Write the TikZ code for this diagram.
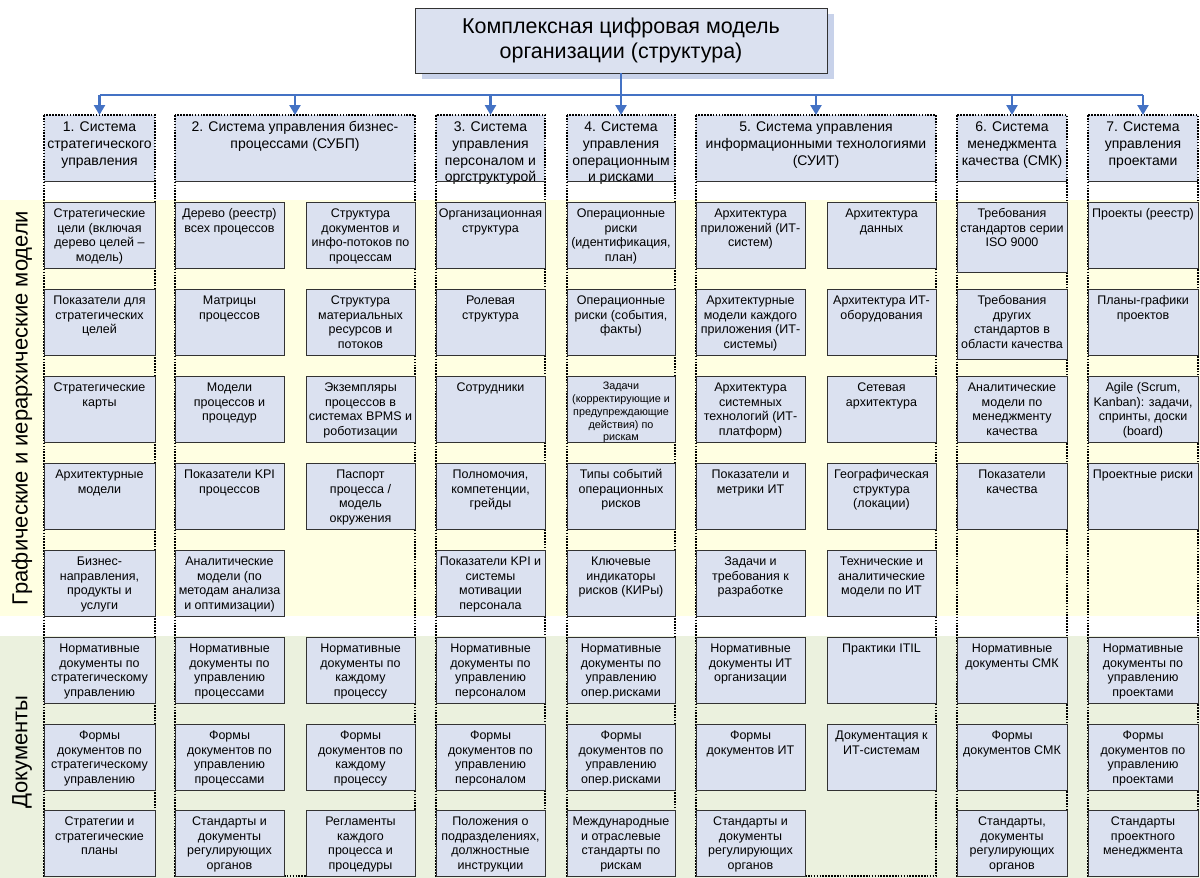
\documentclass[tikz,border=0pt]{standalone}
\usepackage{fontspec}
\setmainfont{Liberation Sans}
\usetikzlibrary{arrows.meta,shadows}
\definecolor{boxfill}{RGB}{219,225,240}
\definecolor{bandY}{RGB}{255,255,226}
\definecolor{bandG}{RGB}{235,241,222}
\definecolor{conblue}{RGB}{68,114,196}
\definecolor{shadowblue}{RGB}{200,210,234}
\definecolor{edge}{RGB}{50,50,50}
\tikzset{
 box/.style={draw=edge, line width=1pt, fill=boxfill, inner sep=0pt, outer sep=0pt, rectangle},
 btxt/.style={align=center, inner sep=0pt, font=\fontsize{12.5}{14.6}\selectfont},
 htxt/.style={align=center, inner sep=0pt, font=\fontsize{14}{16.7}\selectfont},
 hdr/.style={fill=boxfill, inner sep=0pt, outer sep=0pt, rectangle},
 hline/.style={draw=edge, line width=1pt},
 cont/.style={draw=black, line width=1.2pt, dash pattern=on 1.6pt off 1.3pt},
 conn/.style={draw=conblue, line width=2.4pt},
 arr/.style={conn, -{Triangle[length=10pt,width=11pt]}},
 side/.style={rotate=90, font=\fontsize{22}{26}\selectfont, inner sep=0pt}
}
\newcommand\mybox[7][]{%
 \node[box, anchor=north west, minimum width={#5-#3}, minimum height={#6-#4}] (#2) at (#3,#4) {};
 \node[btxt, anchor=north, #1] (#2t) at ([yshift=-4pt]#2.north) {\rule{0pt}{11.5pt}#7};
}
\newcommand\myhdr[4]{%
 \node[hdr, anchor=north west, minimum width={#3-#2}, minimum height=66] (#1) at (#2,115) {};
 \node[htxt, anchor=north] (#1t) at ([yshift=-4pt]#1.north) {\rule{0pt}{12.5pt}#4};
}
\begin{document}
\begin{tikzpicture}[x=1pt,y=-1pt]
\useasboundingbox (0,0) rectangle (1200,878);
% bands
\fill[bandY] (0,200) rectangle (1200,616);
\fill[bandG] (0,636) rectangle (1200,878);
\node[side] (L1) at (22,408) {Графические и иерархические модели};
\node[side] (L2) at (22,752) {Документы};
% title
\node[box, drop shadow={shadow xshift=7pt, shadow yshift=-6pt, fill=shadowblue, opacity=1}, minimum width=412, minimum height=65, align=center, font=\fontsize{21.5}{25}\selectfont] (T) at (621,40.5) {Комплексная цифровая модель\\организации (структура)};
% headers
\myhdr{H1}{44}{155}{1. Система\\стратегического\\управления}
\myhdr{H2}{175}{415}{2. Система управления бизнес-\\процессами (СУБП)}
\myhdr{H3}{436}{545}{3. Система\\управления\\персоналом и\\оргструктурой}
\myhdr{H4}{567}{675}{4. Система\\управления\\операционным\\и рисками}
\myhdr{H5}{696}{936}{5. Система управления\\информационными технологиями\\(СУИТ)}
\myhdr{H6}{957}{1067}{6. Система\\менеджмента\\качества (СМК)}
\myhdr{H7}{1088}{1198}{7. Система\\управления\\проектами}
% containers
\draw[cont] (H1.north west) rectangle (H1.east |- 0,876);
\draw[cont] (H2.north west) rectangle (H2.east |- 0,876);
\draw[cont] (H3.north west) rectangle (H3.east |- 0,876);
\draw[cont] (H4.north west) rectangle (H4.east |- 0,876);
\draw[cont] (H5.north west) rectangle (H5.east |- 0,876);
\draw[cont] (H6.north west) rectangle (H6.east |- 0,876);
\draw[cont] (H7.north west) rectangle (H7.east |- 0,876);
\foreach \h in {H1,H2,H3,H4,H5,H6,H7} {\draw[hline] (\h.south west) -- (\h.south east);}
% connectors
\coordinate (J) at (621,95);
\draw[conn] (T.south) -- (J);
\draw[conn] (H1.north |- J) -- (H7.north |- J);
\foreach \h in {H1,H2,H3,H4,H5,H6,H7} {\draw[arr] (\h.north |- J) -- (\h.north);}
% column 1
\mybox{a1}{44}{202}{155}{268}{Стратегические\\цели (включая\\дерево целей –\\модель)}
\mybox{a2}{44}{289}{155}{355}{Показатели для\\стратегических\\целей}
\mybox{a3}{44}{376}{155}{442}{Стратегические\\карты}
\mybox{a4}{44}{463}{155}{529}{Архитектурные\\модели}
\mybox{a5}{44}{550}{155}{616}{Бизнес-\\направления,\\продукты и\\услуги}
\mybox{a6}{44}{637}{155}{703}{Нормативные\\документы по\\стратегическому\\управлению}
\mybox{a7}{44}{724}{155}{790}{Формы\\документов по\\стратегическому\\управлению}
\mybox{a8}{44}{810}{155}{876}{Стратегии и\\стратегические\\планы}
% column 2a
\mybox{b1}{175}{202}{284}{268}{Дерево (реестр)\\всех процессов}
\mybox{b2}{175}{289}{284}{355}{Матрицы\\процессов}
\mybox{b3}{175}{376}{284}{442}{Модели\\процессов и\\процедур}
\mybox{b4}{175}{463}{284}{529}{Показатели KPI\\процессов}
\mybox{b5}{175}{550}{284}{616}{Аналитические\\модели (по\\методам анализа\\и оптимизации)}
\mybox{b6}{175}{637}{284}{703}{Нормативные\\документы по\\управлению\\процессами}
\mybox{b7}{175}{724}{284}{790}{Формы\\документов по\\управлению\\процессами}
\mybox{b8}{175}{810}{284}{876}{Стандарты и\\документы\\регулирующих\\органов}
% column 2b
\mybox{c1}{306}{202}{415}{268}{Структура\\документов и\\инфо-потоков по\\процессам}
\mybox{c2}{306}{289}{415}{355}{Структура\\материальных\\ресурсов и\\потоков}
\mybox{c3}{306}{376}{415}{442}{Экземпляры\\процессов в\\системах BPMS и\\роботизации}
\mybox{c4}{306}{463}{415}{529}{Паспорт\\процесса /\\модель\\окружения}
\mybox{c6}{306}{637}{415}{703}{Нормативные\\документы по\\каждому\\процессу}
\mybox{c7}{306}{724}{415}{790}{Формы\\документов по\\каждому\\процессу}
\mybox{c8}{306}{810}{415}{876}{Регламенты\\каждого\\процесса и\\процедуры}
% column 3
\mybox{d1}{436}{202}{545}{268}{Организационная\\структура}
\mybox{d2}{436}{289}{545}{355}{Ролевая\\структура}
\mybox{d3}{436}{376}{545}{442}{Сотрудники}
\mybox{d4}{436}{463}{545}{529}{Полномочия,\\компетенции,\\грейды}
\mybox{d5}{436}{550}{545}{616}{Показатели KPI и\\системы\\мотивации\\персонала}
\mybox{d6}{436}{637}{545}{703}{Нормативные\\документы по\\управлению\\персоналом}
\mybox{d7}{436}{724}{545}{790}{Формы\\документов по\\управлению\\персоналом}
\mybox{d8}{436}{810}{545}{876}{Положения о\\подразделениях,\\должностные\\инструкции}
% column 4
\mybox{e1}{567}{202}{675}{268}{Операционные\\риски\\(идентификация,\\план)}
\mybox{e2}{567}{289}{675}{355}{Операционные\\риски (события,\\факты)}
\mybox[font=\fontsize{10.8}{12.8}\selectfont, yshift=2pt]{e3}{567}{376}{675}{442}{Задачи\\(корректирующие и\\предупреждающие\\действия) по\\рискам}
\mybox{e4}{567}{463}{675}{529}{Типы событий\\операционных\\рисков}
\mybox{e5}{567}{550}{675}{616}{Ключевые\\индикаторы\\рисков (КИРы)}
\mybox{e6}{567}{637}{675}{703}{Нормативные\\документы по\\управлению\\опер.рисками}
\mybox{e7}{567}{724}{675}{790}{Формы\\документов по\\управлению\\опер.рисками}
\mybox{e8}{567}{810}{675}{876}{Международные\\и отраслевые\\стандарты по\\рискам}
% column 5a
\mybox{f1}{696}{202}{805}{268}{Архитектура\\приложений (ИТ-\\систем)}
\mybox{f2}{696}{289}{805}{355}{Архитектурные\\модели каждого\\приложения (ИТ-\\системы)}
\mybox{f3}{696}{376}{805}{442}{Архитектура\\системных\\технологий (ИТ-\\платформ)}
\mybox{f4}{696}{463}{805}{529}{Показатели и\\метрики ИТ}
\mybox{f5}{696}{550}{805}{616}{Задачи и\\требования к\\разработке}
\mybox{f6}{696}{637}{805}{703}{Нормативные\\документы ИТ\\организации}
\mybox{f7}{696}{724}{805}{790}{Формы\\документов ИТ}
\mybox{f8}{696}{810}{805}{876}{Стандарты и\\документы\\регулирующих\\органов}
% column 5b
\mybox{g1}{827}{202}{936}{268}{Архитектура\\данных}
\mybox{g2}{827}{289}{936}{355}{Архитектура ИТ-\\оборудования}
\mybox{g3}{827}{376}{936}{442}{Сетевая\\архитектура}
\mybox{g4}{827}{463}{936}{529}{Географическая\\структура\\(локации)}
\mybox{g5}{827}{550}{936}{616}{Технические и\\аналитические\\модели по ИТ}
\mybox{g6}{827}{637}{936}{703}{Практики ITIL}
\mybox{g7}{827}{724}{936}{790}{Документация к\\ИТ-системам}
% column 6
\mybox{h1}{957}{202}{1067}{272}{Требования\\стандартов серии\\ISO 9000}
\mybox{h2}{957}{289}{1067}{359}{Требования\\других\\стандартов в\\области качества}
\mybox{h3}{957}{376}{1067}{442}{Аналитические\\модели по\\менеджменту\\качества}
\mybox{h4}{957}{463}{1067}{529}{Показатели\\качества}
\mybox{h6}{957}{637}{1067}{703}{Нормативные\\документы СМК}
\mybox{h7}{957}{724}{1067}{790}{Формы\\документов СМК}
\mybox{h8}{957}{810}{1067}{876}{Стандарты,\\документы\\регулирующих\\органов}
% column 7
\mybox{k1}{1088}{202}{1198}{268}{Проекты (реестр)}
\mybox{k2}{1088}{289}{1198}{355}{Планы-графики\\проектов}
\mybox{k3}{1088}{376}{1198}{442}{Agile (Scrum,\\Kanban): задачи,\\спринты, доски\\(board)}
\mybox{k4}{1088}{463}{1198}{529}{Проектные риски}
\mybox{k6}{1088}{637}{1198}{703}{Нормативные\\документы по\\управлению\\проектами}
\mybox{k7}{1088}{724}{1198}{790}{Формы\\документов по\\управлению\\проектами}
\mybox{k8}{1088}{810}{1198}{876}{Стандарты\\проектного\\менеджмента}
\end{tikzpicture}
\end{document}
